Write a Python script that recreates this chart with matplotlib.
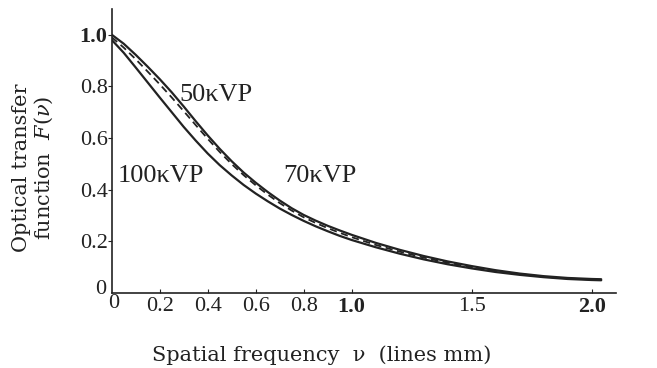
import matplotlib
matplotlib.use("Agg")
import matplotlib.pyplot as plt

# Data
x_vals = [0.00, 0.05, 0.10, 0.15, 0.20, 0.25, 0.30, 0.35, 0.40, 0.45, 0.50, 0.55,
          0.60, 0.65, 0.70, 0.75, 0.80, 0.85, 0.90, 0.95, 1.00, 1.10, 1.20, 1.30,
          1.40, 1.50, 1.60, 1.70, 1.80, 1.90, 2.00, 2.04]

y_50 = [1.000, 0.965, 0.922, 0.876, 0.828, 0.777, 0.722, 0.665, 0.610, 0.558, 0.510, 0.466,
        0.427, 0.391, 0.358, 0.328, 0.302, 0.280, 0.260, 0.242, 0.225, 0.194, 0.167, 0.143,
        0.122, 0.104, 0.088, 0.075, 0.065, 0.058, 0.054, 0.053]

y_70 = [0.990, 0.950, 0.905, 0.857, 0.808, 0.757, 0.704, 0.650, 0.597, 0.546, 0.499, 0.456,
        0.417, 0.381, 0.348, 0.319, 0.293, 0.271, 0.251, 0.233, 0.216, 0.186, 0.160, 0.137,
        0.117, 0.100, 0.085, 0.073, 0.063, 0.056, 0.052, 0.051]

y_100 = [0.980, 0.930, 0.873, 0.815, 0.757, 0.700, 0.643, 0.590, 0.540, 0.495, 0.455, 0.418,
         0.385, 0.355, 0.327, 0.302, 0.279, 0.258, 0.239, 0.221, 0.205, 0.177, 0.152, 0.130,
         0.111, 0.095, 0.081, 0.070, 0.061, 0.054, 0.050, 0.049]

xticks = [0.2, 0.4, 0.6, 0.8, 1.0, 1.5, 2.0]
xtick_labels = ["0.2", "0.4", "0.6", "0.8", "1.0", "1.5", "2.0"]
yticks = [0.2, 0.4, 0.6, 0.8, 1.0]
ytick_labels = ["0.2", "0.4", "0.6", "0.8", "1.0"]

curve_labels = ["50κVP", "70κVP", "100κVP"]

plt.rcParams['font.family'] = ['Liberation Serif', 'DejaVu Serif']
plt.rcParams['mathtext.fontset'] = 'dejavuserif'
ink = "#222222"

fig = plt.figure(figsize=(6.57, 3.68), dpi=100)
ax = fig.add_axes([0.170, 0.204, 0.767, 0.772])
ax.set_xlim(0, 2.1)
ax.set_ylim(0, 1.1)

ax.plot(x_vals, y_50, color=ink, lw=1.6, solid_capstyle='round')
ax.plot(x_vals, y_70, color=ink, lw=1.3, ls=(0, (4, 2.5)))
ax.plot(x_vals, y_100, color=ink, lw=1.6, solid_capstyle='round')

for s in ['top', 'right']:
    ax.spines[s].set_visible(False)
for s in ['left', 'bottom']:
    ax.spines[s].set_color(ink)
    ax.spines[s].set_linewidth(1.2)

ax.set_xticks(xticks)
ax.set_xticklabels(xtick_labels, fontsize=16, color=ink)
ax.set_yticks(yticks)
ax.set_yticklabels(ytick_labels, fontsize=16, color=ink)
for lbl in ax.get_xticklabels() + ax.get_yticklabels():
    if lbl.get_text() in ("1.0", "2.0"):
        lbl.set_fontweight('bold')
ax.tick_params(axis='x', direction='in', length=3, width=0.8, colors=ink, pad=3)
ax.tick_params(axis='y', direction='out', length=3, width=0.8, colors=ink, pad=0)

# origin labels
ax.text(-0.045, 0.012, "0", fontsize=16, color=ink, ha='center', va='center')
ax.text(0.01, -0.04, "0", fontsize=16, color=ink, ha='center', va='center')

# curve labels
ax.text(0.283, 0.745, curve_labels[0], fontsize=19, color=ink, ha='left', va='baseline')
ax.text(0.713, 0.431, curve_labels[1], fontsize=19, color=ink, ha='left', va='baseline')
ax.text(0.025, 0.431, curve_labels[2], fontsize=19, color=ink, ha='left', va='baseline')

fig.text(0.489, 0.035, "Spatial frequency  \u03bd  (lines mm)", fontsize=15, color=ink,
         ha='center', va='center', family=['DejaVu Serif'])
fig.text(0.051, 0.543, "Optical transfer\nfunction  $F(\\nu)$", rotation=90, fontsize=15,
         color=ink, ha='center', va='center', multialignment='center', linespacing=1.08,
         family=['DejaVu Serif'])

fig.savefig("out.png", dpi=100, facecolor='white')
